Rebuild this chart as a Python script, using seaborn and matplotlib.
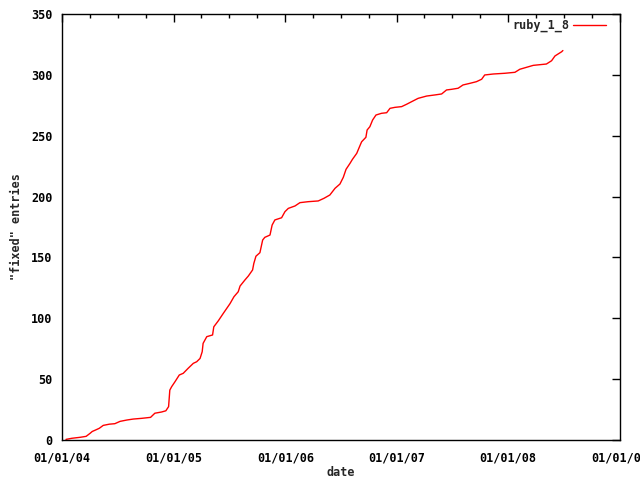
import pandas as pd
import matplotlib
matplotlib.use('Agg')
import matplotlib.pyplot as plt
import matplotlib.dates as mdates
import seaborn as sns

# cumulative "fixed" entries
dates = [
    '2004-01-14', '2004-02-02', '2004-02-29', '2004-03-20', '2004-04-02', '2004-04-09',
    '2004-04-18', '2004-05-02', '2004-05-15', '2004-06-04', '2004-06-22', '2004-07-09',
    '2004-07-31', '2004-08-21', '2004-09-18', '2004-10-17', '2004-10-31', '2004-11-22',
    '2004-12-06', '2004-12-15', '2004-12-19', '2004-12-25', '2005-01-05', '2005-01-19',
    '2005-02-01', '2005-02-17', '2005-03-06', '2005-03-17', '2005-03-28', '2005-04-04',
    '2005-04-07', '2005-04-19', '2005-05-08', '2005-05-12', '2005-05-27', '2005-06-12',
    '2005-06-23', '2005-07-04', '2005-07-17', '2005-07-31', '2005-08-06', '2005-08-22',
    '2005-09-02', '2005-09-16', '2005-09-20', '2005-09-27', '2005-10-10', '2005-10-19',
    '2005-10-26', '2005-11-12', '2005-11-19', '2005-11-28', '2005-12-20', '2005-12-31',
    '2006-01-11', '2006-02-02', '2006-02-18', '2006-03-17', '2006-04-19', '2006-05-08',
    '2006-05-27', '2006-06-13', '2006-06-29', '2006-07-10', '2006-07-19', '2006-08-01',
    '2006-08-09', '2006-08-23', '2006-09-02', '2006-09-08', '2006-09-22', '2006-09-26',
    '2006-10-05', '2006-10-14', '2006-10-25', '2006-11-12', '2006-11-29', '2006-12-10',
    '2006-12-26', '2007-01-17', '2007-02-02', '2007-02-19', '2007-03-12', '2007-04-09',
    '2007-05-06', '2007-05-28', '2007-06-13', '2007-06-29', '2007-07-21', '2007-08-06',
    '2007-08-28', '2007-09-19', '2007-10-06', '2007-10-16', '2007-11-13', '2007-12-21',
    '2008-01-23', '2008-02-08', '2008-03-01', '2008-03-23', '2008-05-05', '2008-05-22',
    '2008-06-02', '2008-06-12', '2008-06-24', '2008-06-28',
]
fixed = [
    0.5, 1.4, 2.2, 3, 5.5, 7,
    8, 9.6, 12, 13, 13.4, 15.3,
    16.4, 17.2, 17.8, 18.6, 22, 23,
    24, 27.4, 41, 43.8, 47.9, 53.4,
    54.8, 58.9, 63, 64.3, 67, 72.5,
    79.4, 84.9, 86.3, 93, 98, 104,
    108, 112, 117.7, 121.8, 126.5, 131.5,
    134.7, 139.7, 145, 151, 153.9, 164.3,
    166.5, 168.4, 176.6, 180.8, 182.6, 187.6,
    190.3, 192.3, 195, 195.8, 196.4, 198.6,
    201.3, 206.8, 210.3, 215.8, 222.4, 227.3,
    230.6, 235.5, 241.5, 245, 248.7, 254.7,
    257.4, 262.9, 267, 268.4, 268.9, 272.5,
    273.3, 273.9, 275.8, 278, 280.7, 282.6,
    283.5, 284.3, 287.6, 288.1, 289, 291.7,
    293, 294.4, 296.4, 299.9, 300.7, 301.3,
    302.1, 304.6, 306.2, 307.8, 308.9, 311.6,
    315.5, 317.1, 319, 320,
]
series_name = 'ruby_1_8'

df = pd.DataFrame({'date': pd.to_datetime(dates), 'fixed': fixed})

sns.set_style('white')
plt.rcParams['font.family'] = ['DejaVu Sans Mono', 'DejaVu Sans']
plt.rcParams['font.weight'] = 'bold'
plt.rcParams['font.size'] = 8.5

fig = plt.figure(figsize=(6.4, 4.8), dpi=100)
ax = fig.add_axes([62 / 640, 40 / 480, 558 / 640, 426 / 480])

sns.lineplot(x='date', y='fixed', data=df, color='#ff0000', linewidth=1, label=series_name, ax=ax)

ax.set_xlim(pd.Timestamp('2004-01-01'), pd.Timestamp('2009-01-01'))
ax.set_ylim(0, 350)
ax.set_yticks(range(0, 351, 50))
ax.xaxis.set_major_locator(mdates.YearLocator())
ax.xaxis.set_minor_locator(mdates.MonthLocator(bymonth=[4, 7, 10]))
ax.xaxis.set_major_formatter(mdates.DateFormatter('%m/%d/%y'))

for s in ax.spines.values():
    s.set_color('black')
    s.set_linewidth(1)
ax.tick_params(which='both', direction='in', top=True, right=True, color='black',
               labelsize=8.5, labelcolor='black')
ax.tick_params(which='major', length=6, width=1)
ax.tick_params(which='minor', length=3, width=1)
ax.tick_params(axis='x', which='major', pad=8)
ax.tick_params(axis='y', which='major', pad=7)
for lab in ax.get_xticklabels() + ax.get_yticklabels():
    lab.set_fontweight('bold')

ax.set_xlabel('date', fontsize=8.5, fontweight='bold', labelpad=1)
ax.set_ylabel('"fixed" entries', fontsize=8.5, fontweight='bold', labelpad=6)

ax.legend(loc='upper right', bbox_to_anchor=(0.984, 1.0), frameon=False, markerfirst=False,
          handlelength=2.8, handletextpad=0.35, borderaxespad=0,
          prop={'weight': 'bold', 'size': 8.5})

fig.savefig('out.png', dpi=100)
